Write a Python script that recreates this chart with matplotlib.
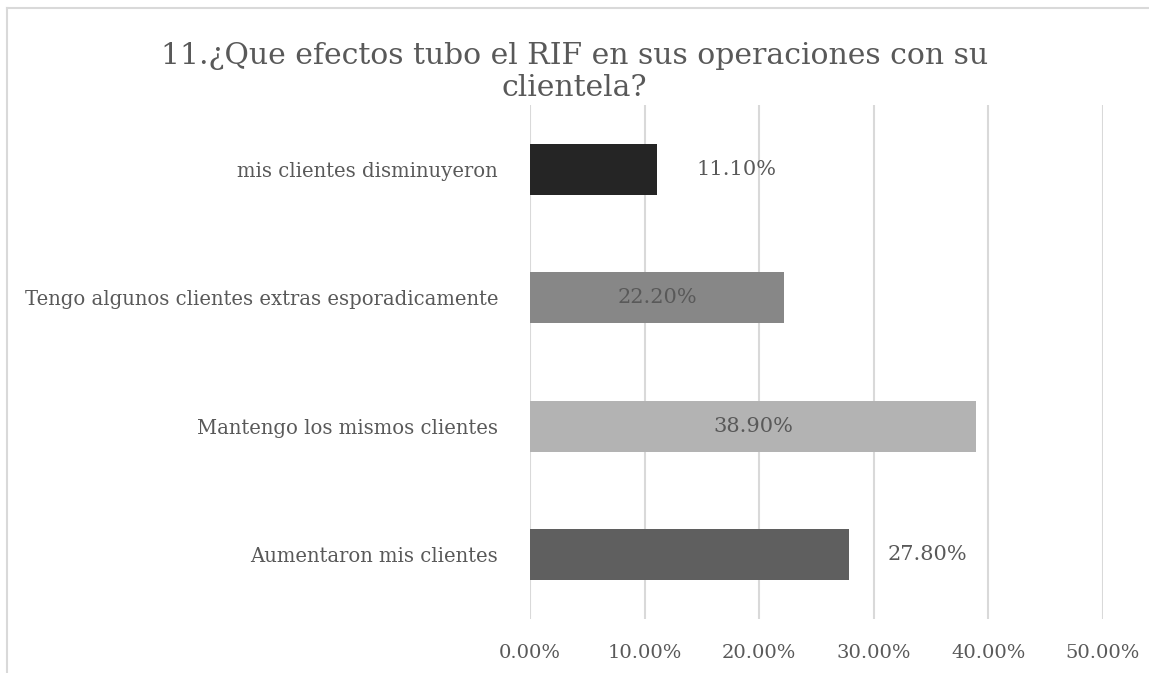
import matplotlib.pyplot as plt
from matplotlib.lines import Line2D

# datos de la pregunta 11
categorias = ['Aumentaron mis clientes', 'Mantengo los mismos clientes',
              'Tengo algunos clientes extras esporadicamente', 'mis clientes disminuyeron']
valores = [0.278, 0.389, 0.222, 0.111]
colores = ['#5f5f5f', '#b3b3b3', '#878787', '#252525']
etiquetas_x = ['0.00%', '10.00%', '20.00%', '30.00%', '40.00%', '50.00%']
ticks_x = [0, 0.1, 0.2, 0.3, 0.4, 0.5]
# etiqueta dentro (True) o fuera de la barra
dentro = [False, True, True, False]

gris = '#595959'
plt.rcParams['font.family'] = ['DejaVu Serif']

fig = plt.figure(figsize=(11.49, 6.73), dpi=100)
ax = fig.add_axes([0.4613, 0.0802, 0.4987, 0.7638])

y = range(len(categorias))
ax.barh(y, valores, height=0.40, color=colores, zorder=3)
ax.set_ylim(-0.5, len(categorias) - 0.5)
ax.set_xlim(0, 0.5)

for i, v in enumerate(valores):
    txt = '%.2f%%' % (v * 100)
    if dentro[i]:
        ax.text(v / 2, i, txt, ha='center', va='center', fontsize=15, color=gris, zorder=4)
    else:
        ax.annotate(txt, (v, i), xytext=(28, 0), textcoords='offset points',
                    ha='left', va='center', fontsize=15, color=gris)

ax.set_yticks(list(y))
ax.set_yticklabels(categorias, fontsize=14.1, color=gris)
ax.set_xticks(ticks_x)
ax.set_xticklabels(etiquetas_x, fontsize=14, color=gris)
ax.tick_params(axis='y', length=0, pad=23)
ax.tick_params(axis='x', length=0, pad=18)
ax.grid(axis='x', color='#d9d9d9', linewidth=1.5, zorder=0)
for s in ax.spines.values():
    s.set_visible(False)

fig.text(0.5, 0.938, '11.¿Que efectos tubo el RIF en sus operaciones con su\nclientela?',
         ha='center', va='top', fontsize=21.5, color=gris, linespacing=1.2)

# marco del gráfico (solo izquierda y arriba visibles)
fig.add_artist(Line2D([0.0065, 0.0065], [0, 0.988], transform=fig.transFigure,
                      color='#d9d9d9', linewidth=1.5))
fig.add_artist(Line2D([0.0065, 1], [0.988, 0.988], transform=fig.transFigure,
                      color='#d9d9d9', linewidth=1.5))

fig.savefig('out.png', dpi=100)
